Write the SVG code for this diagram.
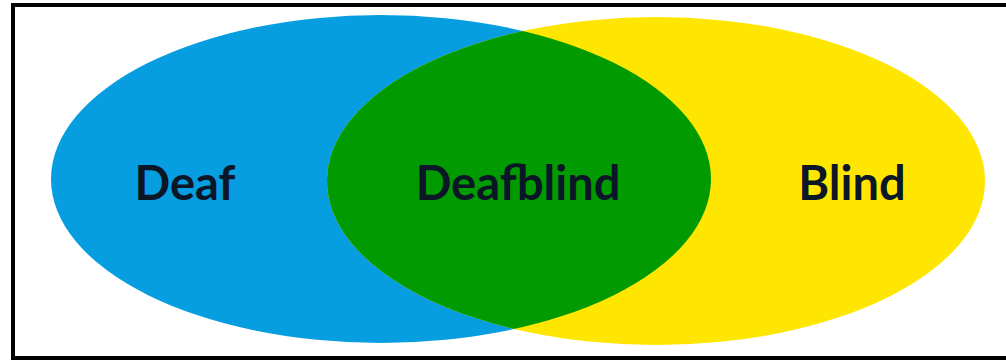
<svg xmlns="http://www.w3.org/2000/svg" width="1006" height="361" viewBox="0 0 1006 361">
<style>
.lbl{font-family:Lato,"Open Sans","Liberation Sans",sans-serif;font-weight:bold;font-size:47px;fill:#0b1626;text-anchor:middle}
</style>
<rect x="0" y="0" width="1006" height="361" fill="#ffffff"/>
<defs>
<clipPath id="clipBlue"><ellipse cx="381" cy="179" rx="330" ry="164"/></clipPath>
</defs>
<g id="deaf"><ellipse cx="381" cy="179" rx="330" ry="164" fill="#069ee1"/></g>
<g id="blind"><ellipse cx="656" cy="181" rx="329" ry="164" fill="#ffe600"/></g>
<g id="deafblind"><ellipse cx="656" cy="181" rx="329" ry="164" fill="#019a01" clip-path="url(#clipBlue)"/></g>
<g id="labels">
<text class="lbl" x="185" y="200">Deaf</text>
<text class="lbl" x="518" y="200">Deafblind</text>
<text class="lbl" x="852" y="200">Blind</text>
</g>
<g id="connectors"></g>
<rect x="13" y="5" width="1003" height="353" fill="none" stroke="#000" stroke-width="4"/>
</svg>
